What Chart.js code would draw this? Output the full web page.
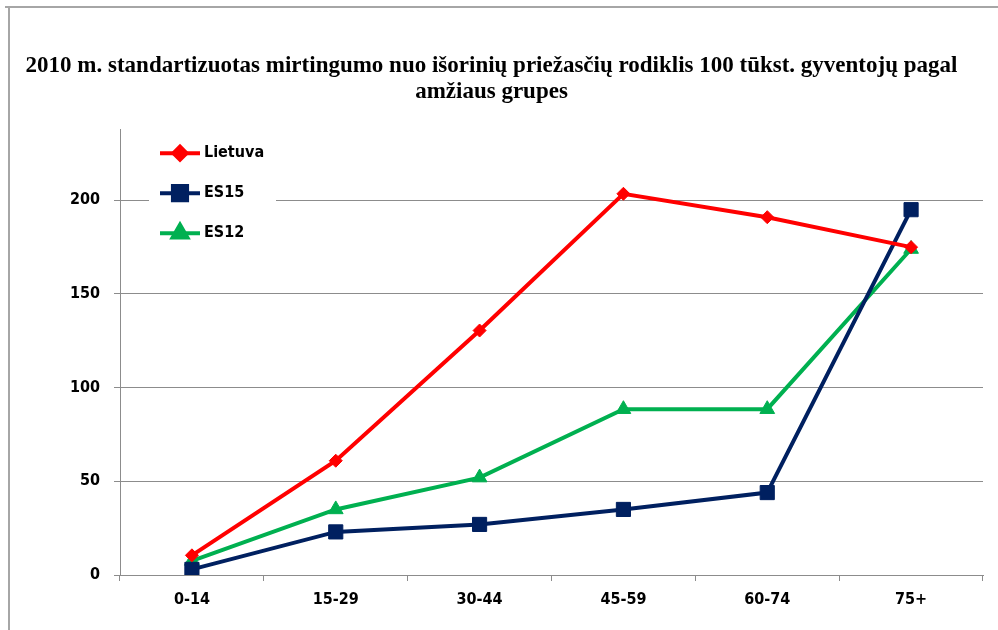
<!DOCTYPE html>
<html><head><meta charset="utf-8">
<script src="https://cdn.jsdelivr.net/npm/chart.js@4.4.1/dist/chart.umd.min.js"></script>
<style>html,body{margin:0;padding:0;background:#fff}#wrap{width:998px;height:630px;position:relative}</style>
</head><body><div id="wrap"><canvas id="c" width="998" height="630"></canvas></div>
<script>
const categories = ['0-14', '15-29', '30-44', '45-59', '60-74', '75+'];
const lietuva = [10.5, 61, 130.5, 203.5, 191, 175];
const es15 = [3, 23, 27, 35, 44, 195];
const es12 = [7.5, 35, 52, 88.5, 88.5, 174];
const seriesNames = ['Lietuva', 'ES15', 'ES12'];
const titleLines = ['2010 m. standartizuotas mirtingumo nuo išorinių priežasčių rodiklis 100 tūkst. gyventojų pagal', 'amžiaus grupes'];
const yTicks = [0, 50, 100, 150, 200];

const GRID = '#8c8c8c';
const TICKFONT = {family: 'DejaVu Sans Condensed, DejaVu Sans', size: 16, weight: 'bold'};

const framePlugin = {
  id: 'frame',
  beforeDraw(chart) {
    const ctx = chart.ctx;
    ctx.save();
    ctx.fillStyle = '#fff';
    ctx.fillRect(0, 0, chart.width, chart.height);
    ctx.strokeStyle = '#a6a6a6';
    ctx.lineWidth = 2;
    ctx.beginPath();
    ctx.moveTo(5, 7); ctx.lineTo(chart.width, 7);
    ctx.moveTo(9, 7); ctx.lineTo(9, chart.height);
    ctx.stroke();
    ctx.restore();
  }
};

const legendPlugin = {
  id: 'insideLegend',
  beforeDatasetsDraw(chart) {
    const ctx = chart.ctx, a = chart.chartArea;
    ctx.save();
    ctx.fillStyle = '#fff';
    ctx.fillRect(a.left + 29, a.top + 6, 127, 116);
    ctx.restore();
  },
  afterDatasetsDraw(chart) {
    const ctx = chart.ctx, a = chart.chartArea;
    ctx.save();
    chart.data.datasets.forEach((ds, i) => {
      const y = a.top + 24 + i * 40;
      const x0 = a.left + 40, x1 = a.left + 80;
      ctx.strokeStyle = ds.borderColor;
      ctx.lineWidth = ds.borderWidth;
      ctx.beginPath(); ctx.moveTo(x0, y); ctx.lineTo(x1, y); ctx.stroke();
      ctx.fillStyle = ds.pointBackgroundColor;
      ctx.strokeStyle = ds.pointBorderColor;
      Chart.helpers.drawPoint(ctx, {pointStyle: ds.pointStyle, radius: ds.pointRadius, borderWidth: 1, rotation: 0}, (x0 + x1) / 2, y);
      ctx.fillStyle = '#000';
      ctx.font = 'bold 16px "DejaVu Sans Condensed", "DejaVu Sans"';
      ctx.textBaseline = 'middle';
      ctx.textAlign = 'left';
      ctx.fillText(ds.label, x1 + 4, y);
    });
    ctx.restore();
  }
};

const mk = (label, data, color, style, r) => ({
  label, data, borderColor: color, backgroundColor: color, borderWidth: 4,
  pointStyle: style, pointRadius: r, pointHoverRadius: r, pointBackgroundColor: color,
  pointBorderColor: color, pointBorderWidth: 1, tension: 0, fill: false
});

new Chart(document.getElementById('c'), {
  type: 'line',
  data: {
    labels: categories,
    datasets: [
      mk(seriesNames[0], lietuva, '#ff0000', 'rectRot', 6.5),
      mk(seriesNames[1], es15, '#002060', 'rect', 10),
      mk(seriesNames[2], es12, '#00b050', 'triangle', 8.5)
    ]
  },
  options: {
    responsive: false,
    animation: false,
    devicePixelRatio: 1,
    layout: {padding: {left: 0, right: 15, top: 0, bottom: 0}},
    plugins: {
      legend: {display: false},
      tooltip: {enabled: false},
      title: {
        display: true, text: titleLines, color: '#000',
        font: {family: 'Liberation Serif', size: 23, weight: 'bold', lineHeight: 1.09},
        padding: {top: 54, bottom: 25}
      }
    },
    scales: {
      x: {
        offset: true,
        grid: {offset: true, drawOnChartArea: false, color: GRID, tickLength: 6},
        border: {color: GRID, width: 1},
        ticks: {color: '#000', font: TICKFONT, padding: 9, maxRotation: 0},
        afterFit(s) { s.height = 55; }
      },
      y: {
        min: 0, max: 238,
        grid: {color: c => (c.tick && yTicks.includes(c.tick.value)) ? GRID : 'rgba(0,0,0,0)', tickLength: 6},
        border: {color: GRID, width: 1},
        ticks: {stepSize: 50, color: '#000', font: TICKFONT, padding: 14,
          callback: v => yTicks.includes(v) ? String(v) : ''},
        afterFit(s) { s.width = 120; }
      }
    }
  },
  plugins: [framePlugin, legendPlugin]
});
</script></body></html>
